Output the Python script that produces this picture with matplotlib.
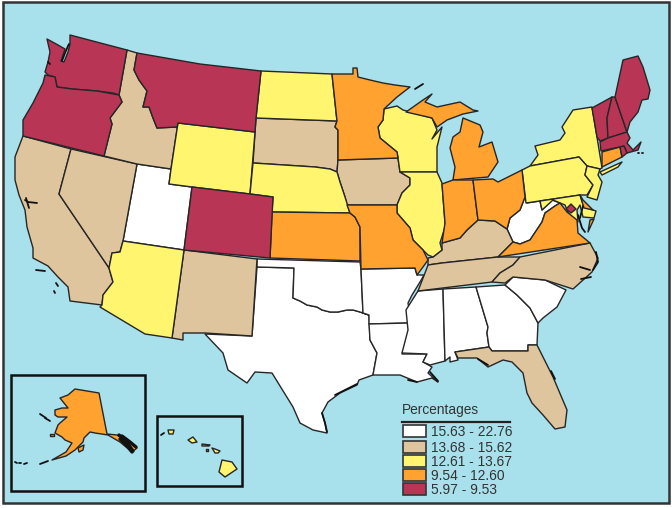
import matplotlib
matplotlib.use("Agg")
import matplotlib.pyplot as plt
from matplotlib.patches import Rectangle

plt.rcParams['font.family'] = ['Liberation Sans', 'DejaVu Sans']

legend_title = "Percentages"
legend_labels = ["15.63 - 22.76", "13.68 - 15.62", "12.61 - 13.67", "9.54 - 12.60", "5.97 - 9.53"]
class_colors = ["#FFFFFF", "#DFC59E", "#FFF56E", "#FFA230", "#B93556"]

# state -> legend class
class_0 = ["UT", "TX", "OK", "AR", "LA", "MS", "AL", "GA", "SC", "WV"]
class_1 = ["CA", "NV", "ID", "NM", "SD", "IA", "KY", "TN", "NC", "FL"]
class_2 = ["WY", "ND", "NE", "AZ", "WI", "IL", "NY", "LI", "PA", "NJ", "MD", "HI1", "HI2", "HI3", "HI4"]
class_3 = ["MN", "KS", "MO", "UP", "MI", "IN", "OH", "VA", "VA2", "DE", "CT", "AK", "AK2", "AK3", "HI5", "HI6"]
class_4 = ["WA", "OR", "MT", "CO", "VT", "NH", "ME", "MA", "RI", "DC"]

# outlines, in image pixels
red_river = [(293,298),(300,301),(307,305),(317,307),(322,310),(330,312),(338,312),(347,310),(353,310),(360,312),(369,315)]
bitterroot = [(134,70),(139,80),(147,91),(143,107),(149,107),(153,118),(157,128),(177,127),(178,123)]

WA = [(70,35),(127,50),(119,95),(113,93),(97,91),(72,89),(57,87),(55,77),(48,75),(45,72),(48,62),(50,52),(47,39),(58,45),(65,49),(61,61),(64,62),(68,52),(70,44)]
OR = [(45,75),(55,77),(57,87),(72,89),(97,91),(119,95),(122,102),(110,118),(112,124),(104,156),(23,136),(23,120),(33,103),(43,83)]
ID = [(127,50),(137,53)] + bitterroot + [(171,169),(137,164),(104,156),(112,124),(110,118),(122,102),(119,95)]
MT = [(137,53),(200,64),(261,71),(256,118),(255,132)] + bitterroot[::-1]
WY = [(178,123),(255,132),(250,194),(192,187),(169,184),(171,169)]
ND = [(261,71),(332,74),(337,121),(256,118)]
SD = [(256,118),(337,121),(335,127),(338,130),(338,160),(337,172),(330,169),(315,167),(253,163)]
NE = [(253,163),(315,167),(330,169),(337,172),(340,182),(345,197),(350,213),(272,212),(273,197),(250,194)]
KS = [(272,212),(350,213),(355,217),(360,227),(360,261),(270,258)]
CO = [(192,187),(250,194),(273,197),(270,258),(184,250)]
UT = [(137,164),(171,169),(169,184),(192,187),(184,250),(123,241)]
NV = [(71,149),(137,164),(123,241),(120,252),(112,253),(109,268),(59,194)]
CA = [(23,136),(71,149),(59,194),(109,268),(113,282),(103,295),(102,305),(70,301),(68,287),(58,277),(48,266),(33,258),(33,248),(27,227),(25,210),(19,195),(15,180),(15,157)]
AZ = [(123,241),(184,250),(172,338),(145,334),(100,307),(102,305),(103,295),(113,282),(109,268),(112,253),(120,252)]
NM = [(184,250),(257,259),(252,336),(205,333),(183,333),(183,340),(172,338)]
TX = [(257,267),(294,268)] + red_river + [(370,340),(377,353),(373,375),(359,380),(357,385),(340,393),(328,402),(322,413),(325,423),(327,433),(313,430),(300,423),(293,407),(272,373),(255,372),(247,383),(228,370),(223,353),(205,334),(252,336)]
OK = [(257,259),(360,262),(361,269),(363,313)] + red_river[::-1] + [(294,268),(257,267)]
AR = [(361,269),(415,268),(417,275),(424,275),(420,282),(412,295),(408,303),(410,315),(408,323),(369,324),(369,315),(363,313)]
MO = [(347,205),(397,205),(397,213),(410,228),(413,240),(423,250),(428,260),(423,267),(417,275),(415,268),(361,269),(360,227),(355,217),(350,213)]
IA = [(338,160),(398,158),(400,172),(410,178),(410,185),(402,193),(397,205),(347,205),(345,197),(340,182),(337,172)]
MN = [(332,74),(353,74),(353,68),(357,68),(358,77),(370,80),(383,83),(395,85),(410,87),(397,97),(384,109),(383,120),(378,127),(380,138),(397,152),(398,158),(338,160),(338,130),(335,127),(337,121)]
WI = [(384,109),(397,106),(403,110),(432,118),(437,130),(432,139),(442,127),(437,147),(437,172),(400,172),(398,158),(397,152),(380,138),(378,127),(383,120)]
IL = [(400,172),(437,172),(442,183),(445,223),(445,227),(440,243),(442,250),(433,257),(428,255),(423,250),(413,240),(410,228),(397,213),(397,205),(402,193),(410,185),(410,178)]
UP = [(406,112),(423,100),(432,94),(425,102),(437,107),(460,102),(473,110),(478,111),(463,114),(447,120),(437,127),(432,118)]
MI = [(453,137),(460,132),(463,118),(480,125),(483,132),(479,147),(492,142),(498,162),(488,177),(453,180),(455,167),(450,148)]
IN = [(442,184),(453,180),(473,180),(478,220),(467,230),(460,238),(442,243),(445,223)]
OH = [(473,180),(493,179),(498,182),(522,170),(525,197),(520,210),(510,218),(507,229),(495,221),(478,220)]
KY = [(428,258),(433,257),(442,250),(442,243),(460,238),(467,230),(478,220),(495,221),(507,229),(513,242),(498,257),(442,263),(428,265)]
TN = [(428,265),(442,263),(498,257),(520,257),(513,265),(500,273),(492,282),(418,291),(425,273)]
VA = [(498,257),(513,242),(520,244),(530,240),(542,222),(545,213),(555,206),(560,203),(567,212),(577,220),(578,233),(590,243)]
VA2 = [(590,220),(594,219),(588,232)]
WV = [(507,229),(510,218),(520,210),(525,197),(527,203),(540,201),(542,210),(552,200),(560,203),(555,206),(545,213),(542,222),(530,240),(520,244),(513,242)]
NC = [(520,257),(590,243),(598,258),(592,272),(573,289),(545,280),(513,277),(505,283),(492,282),(500,273),(513,265)]
SC = [(505,285),(513,277),(545,280),(566,290),(557,307),(543,318),(538,323),(530,308),(517,295)]
GA = [(476,287),(505,285),(517,295),(530,308),(538,323),(537,345),(528,345),(528,351),(492,351),(489,347),(487,333),(488,327)]
AL = [(443,289),(476,287),(488,327),(487,333),(489,347),(455,352),(458,360),(450,362),(450,357),(445,361)]
MS = [(418,291),(443,289),(445,361),(430,365),(423,362),(427,354),(402,353),(408,330),(406,310)]
LA = [(369,324),(408,323),(410,333),(402,354),(427,354),(423,362),(432,367),(428,373),(438,382),(432,378),(417,382),(400,375),(373,375),(377,353),(370,340)]
FL = [(455,352),(489,347),(492,351),(528,351),(528,345),(537,345),(553,377),(567,410),(565,427),(555,429),(543,415),(532,403),(527,393),(523,373),(512,362),(503,360),(488,367),(477,358),(458,358)]
MD = [(540,201),(580,195),(584,207),(596,211),(594,218),(583,217),(580,205),(577,210),(578,222),(570,217),(565,205),(553,200),(542,210)]
DC = [(571,204),(576,209),(571,213),(566,209)]
DE = [(580,195),(583,200),(593,210),(584,208)]
PA = [(522,170),(530,166),(579,157),(587,166),(585,175),(593,185),(587,195),(580,195),(526,203)]
NJ = [(587,166),(600,169),(598,175),(602,182),(597,200),(587,197),(593,185),(585,175)]
NY = [(530,166),(538,155),(535,146),(560,140),(565,133),(562,127),(573,110),(592,107),(597,137),(602,168),(600,169),(587,166),(579,157)]
LI = [(600,172),(622,162),(618,167),(602,175)]
CT = [(602,152),(620,147),(622,157),(602,167)]
RI = [(620,147),(624,146),(627,153),(622,157)]
MA = [(601,151),(600,142),(608,138),(627,132),(630,138),(627,143),(633,150),(641,142),(638,150),(627,153),(624,146)]
VT = [(592,108),(612,97),(607,118),(608,138),(600,141),(597,137)]
NH = [(612,97),(615,97),(627,132),(608,138),(607,118)]
ME = [(615,97),(623,60),(638,56),(643,67),(650,90),(648,99),(642,100),(638,112),(630,122),(627,132)]
AK = [(75,389),(99,393),(107,434),(117,435),(133,445),(137,448),(132,452),(120,442),(108,435),(95,433),(90,432),(84,438),(83,442),(75,450),(66,456),(52,460),(66,452),(72,443),(65,440),(62,437),(55,433),(58,425),(60,423),(67,417),(58,417),(55,415),(55,410),(62,408),(68,408),(60,398),(68,395)]
AK2 = [(78,448),(84,445),(83,450),(79,452)]
AK3 = [(50,434),(54,434),(54,436),(50,436)]
HI1 = [(222,460),(232,462),(237,469),(225,477),(219,472)]
HI2 = [(212,448),(215,449),(220,451),(218,453),(215,453)]
HI3 = [(188,440),(193,437),(197,442),(192,443)]
HI4 = [(168,430),(174,430),(173,434),(169,434)]
HI5 = [(202,444),(210,445),(209,446),(202,446)]
HI6 = [(206,449),(208,449),(208,451),(206,451)]

shapes = {k: v for k, v in globals().items() if isinstance(v, list) and k[:2].isupper() and len(k) <= 3}

# coast detail drawn as dark strokes (sounds, bays, small islands)
coast_marks = [
    [(62,61),(65,53),(68,46),(69,44)],
    [(48,62),(50,64)],
    [(25,200),(28,202),(37,203)],
    [(26,198),(29,208)],
    [(36,270),(45,271)],
    [(56,283),(58,286)],
    [(54,291),(55,293)],
    [(415,89),(423,84)],
    [(578,215),(582,228),(585,232)],
    [(583,206),(580,218)],
    [(551,371),(555,379)],
    [(408,380),(417,382)],
    [(335,395),(357,384)],
    [(322,413),(325,423),(327,432)],
    [(430,372),(438,381)],
    [(488,365),(478,359)],
    [(45,418),(50,421)],
    [(40,464),(48,461)],
    [(15,462),(17,463)],
    [(19,463),(21,463)],
    [(24,464),(27,463)],
    [(161,435),(164,433)],
    [(638,153),(639,153)],
    [(642,153),(643,153)],
    [(596,252),(598,262),(593,270)],
    [(580,267),(590,270)],
    [(581,279),(591,277)],
    [(40,414),(46,418)],
]
# southeast Alaska, almost solid black in the picture
panhandle = [
    [(119,435),(126,441),(133,451)],
    [(122,436),(130,442),(136,447)],
    [(120,439),(128,447),(132,452)],
]

fig = plt.figure(figsize=(6.72, 5.08), dpi=100, facecolor="white")
ax = fig.add_axes([0, 0, 1, 1])
ax.set_xlim(0, 672)
ax.set_ylim(508, 0)
ax.axis("off")

ax.add_patch(Rectangle((2.5, 1.5), 666, 501, fc="#A8E0EC", ec="#333333", lw=1.8, zorder=0))

classes = [class_0, class_1, class_2, class_3, class_4]
for i, members in enumerate(classes):
    for name in members:
        xs, ys = zip(*shapes[name])
        ax.fill(xs, ys, fc=class_colors[i], ec="#262626", lw=1.0, joinstyle="round", zorder=2)

for mark in coast_marks:
    xs, ys = zip(*mark)
    ax.plot(xs, ys, color="#111111", lw=1.3, solid_capstyle="round", zorder=3)
for mark in panhandle:
    xs, ys = zip(*mark)
    ax.plot(xs, ys, color="#111111", lw=2.4, solid_capstyle="round", zorder=3)

# inset boxes
ax.add_patch(Rectangle((11, 374.5), 134, 116, fc="none", ec="#111111", lw=1.8, zorder=4))
ax.add_patch(Rectangle((156.5, 416), 85.5, 70, fc="none", ec="#111111", lw=1.8, zorder=4))

# legend
ax.text(402, 410, legend_title, fontsize=9.9, color="#333333", va="center", ha="left")
ax.plot([402, 510], [422, 422], color="#222222", lw=1.6, zorder=4)
swatch_tops = [425, 441, 455, 469, 483]
for top, label, col in zip(swatch_tops, legend_labels, class_colors):
    ax.add_patch(Rectangle((403, top), 23, 12, fc=col, ec="#333333", lw=1.2, zorder=4))
    ax.text(431, top + 6.5, label, fontsize=9.9, color="#333333", va="center", ha="left")

fig.savefig("out.png", dpi=100)
